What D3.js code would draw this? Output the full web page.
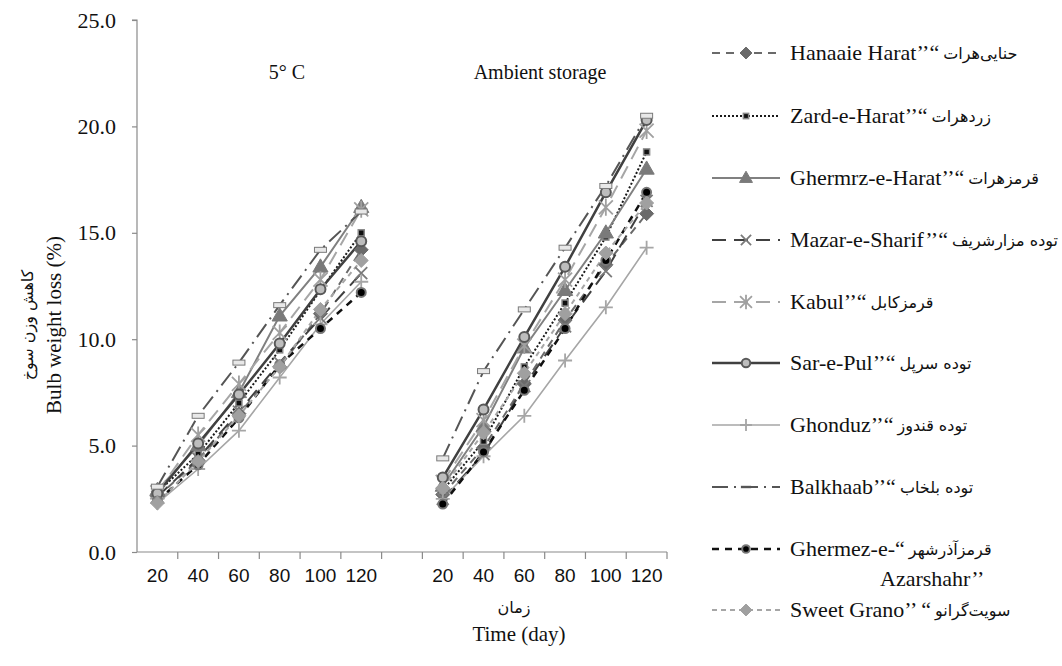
<!DOCTYPE html>
<html>
<head>
<meta charset="utf-8">
<script src="https://cdn.jsdelivr.net/npm/d3@7"></script>
<style>
  body { margin: 0; background: #fff; }
  svg { display: block; }
</style>
</head>
<body>
<svg id="chart" width="1062" height="666"></svg>
<script>
// Storage days on the category axis (one group per storage condition)
const days = [20, 40, 60, 80, 100, 120];
const panelTitles = ["5° C", "Ambient storage"];
const yTicks = [0, 5, 10, 15, 20, 25];

// Cultivar names (English part and Persian part of each legend entry)
const namesEn = [
  "Hanaaie  Harat", "Zard-e-Harat", "Ghermrz-e-Harat", "Mazar-e-Sharif",
  "Kabul", "Sar-e-Pul", "Ghonduz", "Balkhaab", "Ghermez-e-", "Sweet Grano"
];
const namesQuote = ["’’“", "’’“", "’’“", "’’“", "’’“", "’’“", "’’“", "’’“", "“", "’’ “"];
const namesFa = [
  "حنایی‌هرات", "زردهرات", "قرمزهرات", "توده مزارشریف", "قرمزکابل",
  "توده سرپل", "توده قندوز", "توده بلخاب", "قرمزآذرشهر", "سویت‌گرانو"
];

// Bulb weight loss (%) at 5 °C, one row per cultivar, columns = days
const coldStorage = [
  [2.6, 4.3, 6.5, 8.7, 11.2, 14.2],
  [2.8, 4.6, 7.0, 9.5, 12.3, 15.0],
  [2.9, 5.0, 7.5, 11.1, 13.4, 16.2],
  [2.6, 4.4, 6.6, 8.9, 11.0, 13.1],
  [2.8, 5.5, 7.9, 10.3, 12.8, 16.1],
  [2.75, 5.1, 7.4, 9.8, 12.35, 14.6],
  [2.3, 3.9, 5.7, 8.2, 10.7, 12.7],
  [3.07, 6.4, 8.9, 11.6, 14.2, 16.0],
  [2.4, 4.1, 6.3, 8.8, 10.5, 12.2],
  [2.3, 4.25, 6.4, 8.7, 11.4, 13.7]
];

// Bulb weight loss (%) under ambient storage
const ambientStorage = [
  [2.7, 4.9, 7.9, 10.9, 13.5, 15.9],
  [2.9, 5.2, 8.7, 11.7, 14.8, 18.8],
  [3.1, 5.9, 9.6, 12.3, 15.0, 18.0],
  [2.5, 4.6, 7.8, 10.6, 13.2, 16.5],
  [3.3, 6.2, 9.7, 12.8, 16.2, 19.8],
  [3.5, 6.7, 10.1, 13.4, 16.9, 20.3],
  [2.5, 4.5, 6.4, 9.0, 11.5, 14.3],
  [4.4, 8.5, 11.4, 14.3, 17.2, 20.5],
  [2.25, 4.7, 7.6, 10.5, 13.7, 16.9],
  [3.0, 5.6, 8.4, 11.2, 14.05, 16.4]
];

// Line / marker styling per cultivar
const styles = [
  { stroke: "#6a6a6a", width: 2,   dash: "8,6",       marker: "diamond",  fill: "#6a6a6a", mstroke: "#6a6a6a", size: 7 },
  { stroke: "#1a1a1a", width: 2,   dash: "2,2",       marker: "square",   fill: "#111",    mstroke: "#888",    size: 5 },
  { stroke: "#808080", width: 2,   dash: null,        marker: "triangle", fill: "#7a7a7a", mstroke: "#7a7a7a", size: 8 },
  { stroke: "#404040", width: 2,   dash: "14,8",      marker: "x",        fill: "none",    mstroke: "#7a7a7a", size: 6 },
  { stroke: "#a6a6a6", width: 2,   dash: "14,8",      marker: "star",     fill: "none",    mstroke: "#a0a0a0", size: 7 },
  { stroke: "#404040", width: 2.5, dash: null,        marker: "circle",   fill: "#bdbdbd", mstroke: "#595959", size: 5 },
  { stroke: "#a6a6a6", width: 1.6, dash: null,        marker: "plus",     fill: "none",    mstroke: "#a6a6a6", size: 7 },
  { stroke: "#555555", width: 2,   dash: "16,6,2,6",  marker: "bar",      fill: "#e8e8e8", mstroke: "#7a7a7a", size: 6 },
  { stroke: "#111111", width: 2.5, dash: "7,6",       marker: "circle",   fill: "#000",    mstroke: "#777",    size: 4.5 },
  { stroke: "#a6a6a6", width: 2,   dash: "5,4",       marker: "diamond",  fill: "#a0a0a0", mstroke: "#a0a0a0", size: 7 }
];

const W = 1062, H = 666;
const serif = "Liberation Serif, serif";
const sans = "Liberation Sans, sans-serif";
const faFont = "DejaVu Sans, sans-serif";
const ink = "#111";

const svg = d3.select("#chart");
svg.append("rect").attr("width", W).attr("height", H).attr("fill", "#fff");

// Category axis: six cold-storage days, an empty slot, six ambient days
const categories = [...days.map(d => "c" + d), "gap", ...days.map(d => "a" + d)];
const x = d3.scaleBand().domain(categories).range([137, 667]).padding(0);
const y = d3.scaleLinear().domain([0, 25]).range([552, 20]);
const cx = k => x(k) + x.bandwidth() / 2;

// Y axis
const yAxis = svg.append("g").attr("transform", `translate(${x.range()[0]},0)`)
  .call(d3.axisLeft(y).tickValues(yTicks).tickFormat(d3.format(".1f")).tickSize(5).tickPadding(16));
yAxis.attr("font-family", serif).attr("font-size", 22);
yAxis.selectAll("path, line").attr("stroke", "#8a8a8a").attr("stroke-width", 1.2);
yAxis.select(".domain").attr("d", `M-5,${y(25)}H0V${y(0)}`);
yAxis.selectAll("text").style("font-family", serif).style("font-size", "22px").attr("fill", ink);

// X axis line with tick marks between categories
const xAxisG = svg.append("g");
xAxisG.append("line").attr("x1", x.range()[0]).attr("x2", x.range()[1])
  .attr("y1", y(0)).attr("y2", y(0)).attr("stroke", "#8a8a8a").attr("stroke-width", 1.2);
const bounds = categories.map(c => x(c)).concat([x.range()[1]]);
xAxisG.selectAll("line.tick").data(bounds.slice(1)).join("line").attr("class", "tick")
  .attr("x1", d => d).attr("x2", d => d).attr("y1", y(0)).attr("y2", y(0) + 7)
  .attr("stroke", "#8a8a8a").attr("stroke-width", 1.2);
xAxisG.selectAll("text.lbl").data(categories.filter(c => c !== "gap")).join("text")
  .attr("class", "lbl")
  .attr("x", d => cx(d)).attr("y", 582)
  .attr("text-anchor", "middle").style("font-family", sans).style("font-size", "19px").attr("fill", ink)
  .text(d => d.slice(1));

// Axis titles
svg.append("text").attr("x", 514).attr("y", 613).attr("text-anchor", "middle")
  .style("font-family", faFont).style("font-size", "16px").attr("fill", ink).text("زمان");
svg.append("text").attr("x", 519).attr("y", 641).attr("text-anchor", "middle")
  .style("font-family", serif).style("font-size", "21px").attr("fill", ink).text("Time (day)");

const yl = svg.append("g").attr("transform", "translate(0,325)");
yl.append("text").attr("transform", "translate(33,0) rotate(-90)").attr("text-anchor", "middle")
  .style("font-family", faFont).style("font-size", "16px").attr("fill", ink).text("کاهش وزن سوخ");
yl.append("text").attr("transform", "translate(61,0) rotate(-90)").attr("text-anchor", "middle")
  .style("font-family", serif).style("font-size", "21px").attr("fill", ink).text("Bulb weight loss (%)");

// Panel titles
svg.append("text").attr("x", 287).attr("y", 79).attr("text-anchor", "middle")
  .style("font-family", serif).style("font-size", "20px").attr("fill", ink).text(panelTitles[0]);
svg.append("text").attr("x", 540).attr("y", 79).attr("text-anchor", "middle")
  .style("font-family", serif).style("font-size", "20px").attr("fill", ink).text(panelTitles[1]);

// Marker drawing
function drawMarker(g, st, px, py, scale = 1) {
  const s = st.size * scale;
  const common = sel => sel.attr("fill", st.fill).attr("stroke", st.mstroke);
  switch (st.marker) {
    case "diamond":
      common(g.append("path").attr("d", `M${px},${py - s}L${px + s},${py}L${px},${py + s}L${px - s},${py}Z`)).attr("stroke-width", 1);
      break;
    case "square":
      common(g.append("rect").attr("x", px - s / 2 - 0.5).attr("y", py - s / 2 - 0.5).attr("width", s + 1).attr("height", s + 1)).attr("stroke-width", 1.5);
      break;
    case "triangle":
      common(g.append("path").attr("d", `M${px},${py - s}L${px + s * 0.95},${py + s * 0.65}L${px - s * 0.95},${py + s * 0.65}Z`)).attr("stroke-width", 1);
      break;
    case "circle":
      common(g.append("circle").attr("cx", px).attr("cy", py).attr("r", s)).attr("stroke-width", 2);
      break;
    case "x":
      g.append("path").attr("d", `M${px - s},${py - s}L${px + s},${py + s}M${px - s},${py + s}L${px + s},${py - s}`)
        .attr("stroke", st.mstroke).attr("stroke-width", 1.8).attr("fill", "none");
      break;
    case "star":
      g.append("path").attr("d", `M${px - s},${py - s}L${px + s},${py + s}M${px - s},${py + s}L${px + s},${py - s}M${px},${py - s * 1.2}V${py + s * 1.2}`)
        .attr("stroke", st.mstroke).attr("stroke-width", 1.8).attr("fill", "none");
      break;
    case "plus":
      g.append("path").attr("d", `M${px - s},${py}H${px + s}M${px},${py - s}V${py + s}`)
        .attr("stroke", st.mstroke).attr("stroke-width", 1.8).attr("fill", "none");
      break;
    case "bar":
      if (scale < 1) {
        g.append("rect").attr("x", px - s).attr("y", py - 1.2).attr("width", 2 * s).attr("height", 2.4).attr("fill", st.stroke);
      } else {
        common(g.append("rect").attr("x", px - s).attr("y", py - 2.5).attr("width", 2 * s).attr("height", 5)).attr("stroke-width", 1);
      }
      break;
  }
}

// Series lines and markers, one broken line per storage condition
const line = d3.line().x(d => cx(d.k)).y(d => y(d.v));
const plot = svg.append("g");
const groups = [
  { prefix: "c", data: coldStorage },
  { prefix: "a", data: ambientStorage }
];
styles.forEach((st, i) => {
  groups.forEach(grp => {
    const pts = days.map((d, j) => ({ k: grp.prefix + d, v: grp.data[i][j] }));
    plot.append("path").datum(pts).attr("d", line).attr("fill", "none")
      .attr("stroke", st.stroke).attr("stroke-width", st.width)
      .attr("stroke-dasharray", st.dash).attr("stroke-linecap", "butt");
  });
});
styles.forEach((st, i) => {
  const mg = plot.append("g");
  groups.forEach(grp => {
    days.forEach((d, j) => drawMarker(mg, st, cx(grp.prefix + d), y(grp.data[i][j])));
  });
});

// Legend
const legendRows = [53, 116, 178, 240, 302, 363, 425, 487, 549, 610];
const lg = svg.append("g");
styles.forEach((st, i) => {
  const ly = legendRows[i];
  lg.append("line").attr("x1", 712).attr("x2", 780).attr("y1", ly).attr("y2", ly)
    .attr("stroke", st.stroke).attr("stroke-width", st.width).attr("stroke-dasharray", st.dash);
  drawMarker(lg, st, 746, ly, 0.85);
  const t = lg.append("text").attr("x", 790).attr("y", ly + 7)
    .style("font-family", serif).style("font-size", "22px").attr("fill", ink);
  t.append("tspan").text(namesEn[i]);
  t.append("tspan").text(namesQuote[i]);
  const w = t.node().getComputedTextLength();
  // Persian part follows the English name; kept inside the right edge
  const fa = lg.append("text").attr("x", 790 + w + 4).attr("y", ly + 6)
    .style("font-family", faFont).style("font-size", "16px").attr("fill", ink)
    .attr("direction", "rtl").attr("text-anchor", "end").text(namesFa[i]);
  const fw = fa.node().getComputedTextLength();
  const over = 790 + w + 4 + fw - 1058;
  if (over > 0) fa.style("font-size", (16 * (fw - over) / fw).toFixed(2) + "px");
  if (i === 8) {
    lg.append("text").attr("x", 880).attr("y", ly + 37)
      .style("font-family", serif).style("font-size", "22px").attr("fill", ink).text("Azarshahr’’");
  }
});
</script>
</body>
</html>
